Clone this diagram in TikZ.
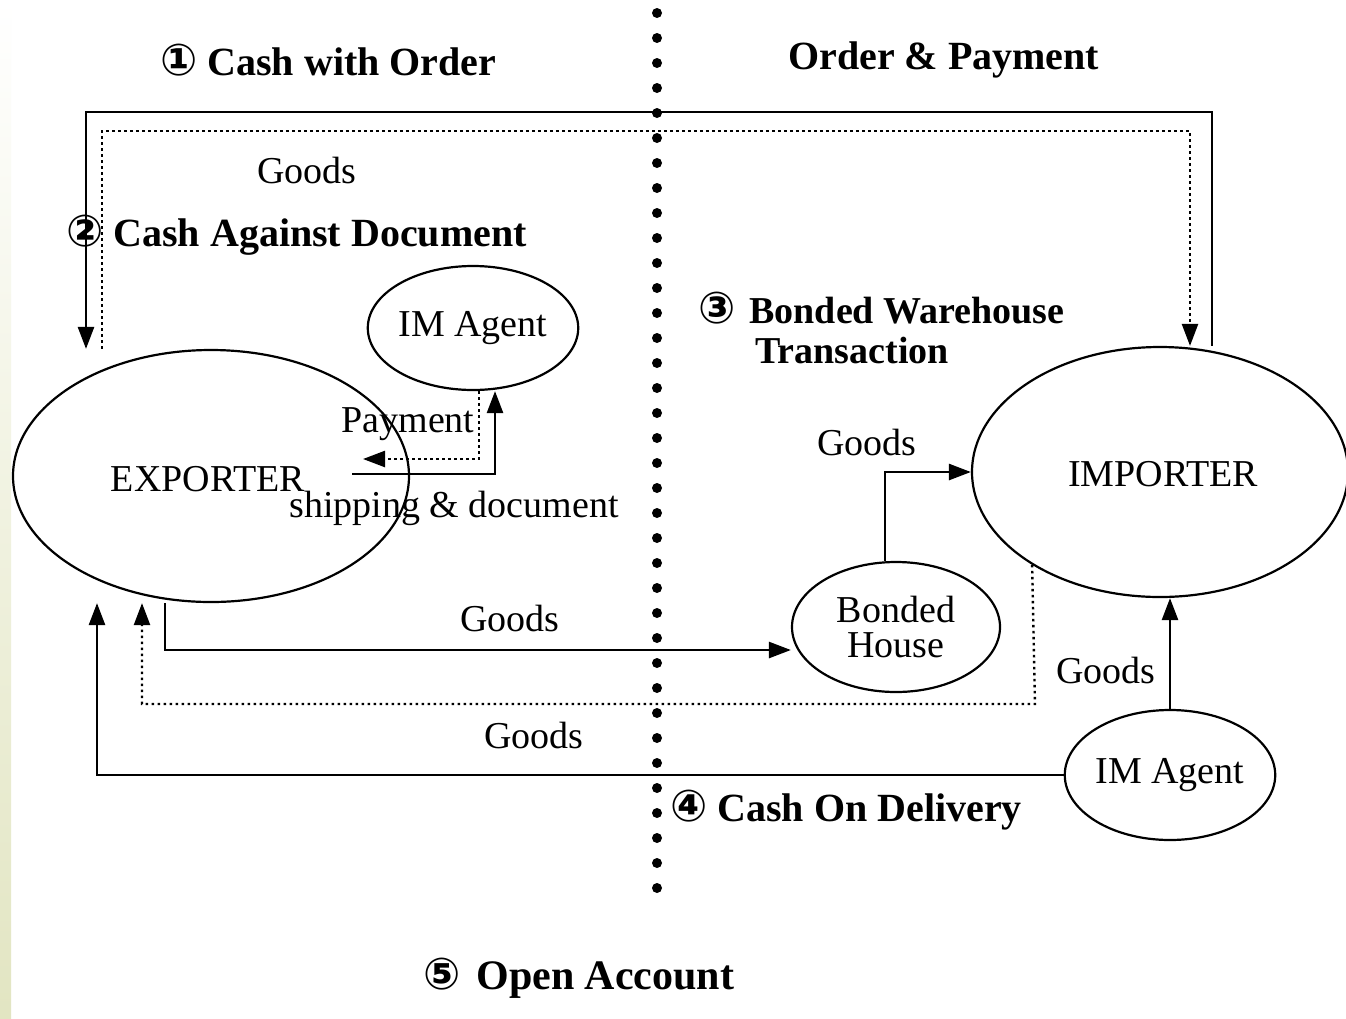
\documentclass[tikz,border=0pt]{standalone}
\usepackage{fontspec}
\setmainfont{Liberation Serif}
\newfontfamily\symfont{DejaVu Sans}
\usetikzlibrary{shapes.geometric,arrows.meta,calc}
\definecolor{stripcol}{RGB}{226,229,194}
\newcommand{\circnum}[1]{{\fontsize{44}{44}\symfont #1}}
\begin{document}
\begin{tikzpicture}[x=1pt,y=-1pt,
  lbl/.style={font=\fontsize{38}{40}\selectfont, inner sep=0pt},
  head/.style={font=\fontsize{40}{44}\selectfont\bfseries, inner sep=0pt, anchor=west},
  ell/.style={ellipse, draw, line width=2.2pt, inner sep=0pt, font=\fontsize{38}{40}\selectfont},
  sline/.style={line width=2.6pt},
  dline/.style={line width=2.4pt, dash pattern=on 2.5pt off 3.5pt},
  arr/.style={-{Triangle[length=22pt,width=16pt]}}
]
\useasboundingbox (0,0) rectangle (1346,1018);
\fill[white] (0,0) rectangle (1346,1018);
\shade[top color=white, bottom color=stripcol] (0,0) rectangle (11,1018);

% divider
\foreach \k in {0,...,35} \fill (657,13+25*\k) circle (5pt);

% ellipses
\node[ell, minimum width=396pt, minimum height=252pt] (exp) at (211,476) {};
\node[lbl] (expt) at (208,479) {EXPORTER};
\node[ell, minimum width=376pt, minimum height=250pt] (imp) at (1160,472) {};
\node[lbl] (impt) at (1163,474) {IMPORTER};
\node[ell, minimum width=208pt, minimum height=124pt] (ima) at (473,328) {IM Agent};
\node[ell, minimum width=208pt, minimum height=130pt, align=center, font=\fontsize{38}{35}\selectfont] (bh) at (896,627) {Bonded\\House};
\node[ell, minimum width=210pt, minimum height=130pt] (imb) at (1170,775) {IM Agent};

% headings
\node[head] (h1) at (160,60) {\circnum{①}\hspace{10pt}Cash with Order};
\node[head] (h0) at (788,60) {Order \& Payment};
\node[head] (h2) at (66,235) {\circnum{②}\hspace{10pt}Cash Against Document};
\node[head, font=\fontsize{38}{40}\selectfont\bfseries] (h3) at (698,308) {\circnum{③}\hspace{14pt}Bonded Warehouse};
\node[head, font=\fontsize{38}{40}\selectfont\bfseries] (h3b) at (755,350) {Transaction};
\node[head] (h4) at (670,810) {\circnum{④}\hspace{10pt}Cash On Delivery};
\node[head, font=\fontsize{42}{44}\selectfont\bfseries] (h5) at (423,978) {\circnum{⑤}\hspace{16pt}Open Account};

% labels
\node[lbl] (g1) at (307,170) {Goods};
\node[lbl] (pay) at (408,424) {Payment};
\node[lbl] (ship) at (454,508) {shipping \& document};
\node[lbl] (g2) at (510,618) {Goods};
\node[lbl] (g3) at (867,442) {Goods};
\node[lbl] (g4) at (1106,670) {Goods};
\node[lbl] (g5) at (534,735) {Goods};

% corner coordinates
\coordinate (A1) at (86,112);
\coordinate (A2) at (1212,112);
\coordinate (B1) at (102,131);
\coordinate (B2) at (1190,131);
\coordinate (C1) at (479,459);
\coordinate (C2) at (363,459);
\coordinate (D0) at (352,474);
\coordinate (D1) at (495,474);
\coordinate (E1) at (165,650);
\coordinate (F1) at (885,472);
\coordinate (G1) at (1035,704);
\coordinate (G2) at (142,704);
\coordinate (H1) at (97,772);

% 1 cash with order
\draw[sline, arr] (imp.north -| A2) -- (A2) -- (A1) -- (exp.north -| A1);
\draw[dline, arr] (exp.north -| B1) -- (B1) -- (B2) -- (imp.north -| B2);
% 2 cash against document
\draw[dline, arr] (ima.south -| C1) -- (C1) -- (C2);
\draw[sline, arr] (D0) -- (D1) -- (ima.south -| D1);
% 3 bonded
\draw[sline, arr] (exp.south -| E1) -- (E1) -- (E1 -| bh.west);
\draw[sline, arr] (bh.north -| F1) -- (F1) -- (F1 -| imp.west);
% 5 open account
\draw[dline, arr] (imp.216.6) -- (G1) -- (G2) -- (exp.south -| G2);
% 4 cash on delivery
\draw[sline, arr] (imb.west) -| (exp.south -| H1);
\draw[sline, arr] (imb.north) -- (imb.north |- imp.south);
\end{tikzpicture}
\end{document}
